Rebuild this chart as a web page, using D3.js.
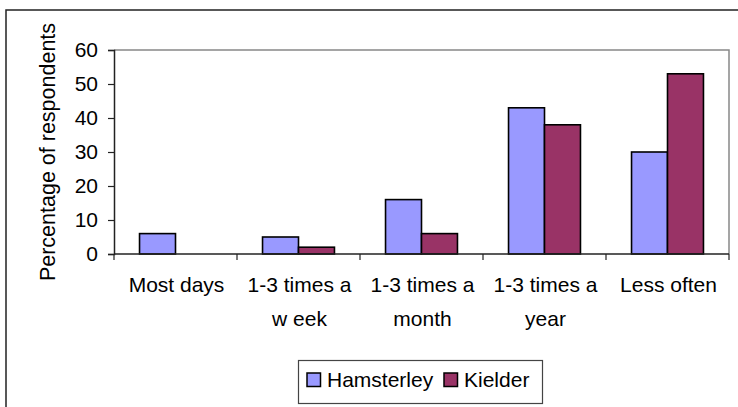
<!DOCTYPE html>
<html>
<head>
<meta charset="utf-8">
<script src="https://cdn.jsdelivr.net/npm/d3@7"></script>
<style>
  html, body { margin: 0; padding: 0; background: #fff; }
  svg { display: block; }
  text { font-family: "Liberation Sans", Arial, sans-serif; fill: #000; }
</style>
</head>
<body>
<svg id="chart" width="738" height="407"></svg>
<script>
// Frequency of visits, percentage of respondents per forest
const categories = [
  ["Most days"],
  ["1-3 times a", "w eek"],
  ["1-3 times a", "month"],
  ["1-3 times a", "year"],
  ["Less often"]
];
const seriesNames = ["Hamsterley", "Kielder"];
const hamsterley = [6, 5, 16, 43, 30];
const kielder = [0, 2, 6, 38, 53];
const yTicks = [0, 10, 20, 30, 40, 50, 60];
const colors = ["#9999FF", "#993366"];

const svg = d3.select("#chart");
const plot = { left: 114, right: 729, top: 50, bottom: 254 };
const fontSize = 21;

// Outer chart frame (top and left edges)
svg.append("path")
  .attr("d", "M6,407 V10 H738")
  .attr("fill", "none").attr("stroke", "#222").attr("stroke-width", 1.5);

const catKeys = categories.map((c, i) => i);
const x0 = d3.scaleBand().domain(catKeys).range([plot.left, plot.right]).padding(0);
const x1 = d3.scaleBand().domain(seriesNames)
  .range([0, x0.bandwidth()]).paddingInner(0).paddingOuter(0.71);
const y = d3.scaleLinear().domain([0, 60]).range([plot.bottom, plot.top]);

// Plot area border (top and right, grey)
svg.append("path")
  .attr("d", `M${plot.left},${plot.top} H${plot.right} V${plot.bottom}`)
  .attr("fill", "none").attr("stroke", "#888").attr("stroke-width", 1.5);

// Bars
const rows = catKeys.map(i => ({ i, values: [hamsterley[i], kielder[i]] }));
const groups = svg.append("g").selectAll("g").data(rows).join("g")
  .attr("transform", d => `translate(${x0(d.i)},0)`);
groups.selectAll("rect")
  .data(d => d.values.map((v, k) => ({ name: seriesNames[k], v, k })).filter(e => e.v > 0))
  .join("rect")
  .attr("x", d => x1(d.name))
  .attr("y", d => y(d.v))
  .attr("width", x1.bandwidth())
  .attr("height", d => y(0) - y(d.v))
  .attr("fill", d => colors[d.k])
  .attr("stroke", "#000").attr("stroke-width", 1.6);

// Y axis
const yAxis = d3.axisLeft(y).tickValues(yTicks).tickSize(6).tickPadding(10);
const gy = svg.append("g").attr("transform", `translate(${plot.left},0)`).call(yAxis);
gy.select(".domain").attr("stroke", "#222").attr("stroke-width", 1.5);
gy.selectAll(".tick line").attr("stroke", "#222").attr("stroke-width", 1.2);
gy.selectAll(".tick text")
  .attr("font-size", fontSize).attr("font-family", "Liberation Sans, Arial, sans-serif")
  .attr("fill", "#000");

// X axis line with category boundary ticks
const boundaries = catKeys.map(i => x0(i)).concat([plot.right]);
svg.append("line")
  .attr("x1", plot.left).attr("x2", plot.right)
  .attr("y1", plot.bottom).attr("y2", plot.bottom)
  .attr("stroke", "#222").attr("stroke-width", 1.5);
svg.append("g").selectAll("line").data(boundaries).join("line")
  .attr("x1", d => d).attr("x2", d => d)
  .attr("y1", plot.bottom).attr("y2", plot.bottom + 6)
  .attr("stroke", "#222").attr("stroke-width", 1.2);

// Category labels (one or two lines)
const labels = svg.append("g").selectAll("text").data(rows).join("text")
  .attr("text-anchor", "middle")
  .attr("font-size", fontSize)
  .attr("transform", d => `translate(${x0(d.i) + x0.bandwidth() / 2 + 1},${plot.bottom + 37.7})`);
labels.selectAll("tspan").data(d => categories[d.i]).join("tspan")
  .attr("x", 0)
  .attr("y", (d, k) => k * 34)
  .text(d => d);

// Y axis title
svg.append("text")
  .attr("transform", `translate(55,${(plot.top + plot.bottom) / 2}) rotate(-90)`)
  .attr("text-anchor", "middle")
  .attr("font-size", 21.5)
  .text("Percentage of respondents");

// Legend
const legend = svg.append("g");
legend.append("rect")
  .attr("x", 298.5).attr("y", 360.5).attr("width", 244).attr("height", 43)
  .attr("fill", "#fff").attr("stroke", "#444").attr("stroke-width", 1.2);
const legendX = [307, 444];
const items = legend.selectAll("g").data(seriesNames).join("g")
  .attr("transform", (d, k) => `translate(${legendX[k]},373)`);
items.append("rect")
  .attr("width", 13.5).attr("height", 13.5)
  .attr("fill", (d, k) => colors[k])
  .attr("stroke", "#000").attr("stroke-width", 1.5);
items.append("text")
  .attr("x", 20).attr("y", 13.7)
  .attr("font-size", fontSize)
  .text(d => d);
</script>
</body>
</html>
